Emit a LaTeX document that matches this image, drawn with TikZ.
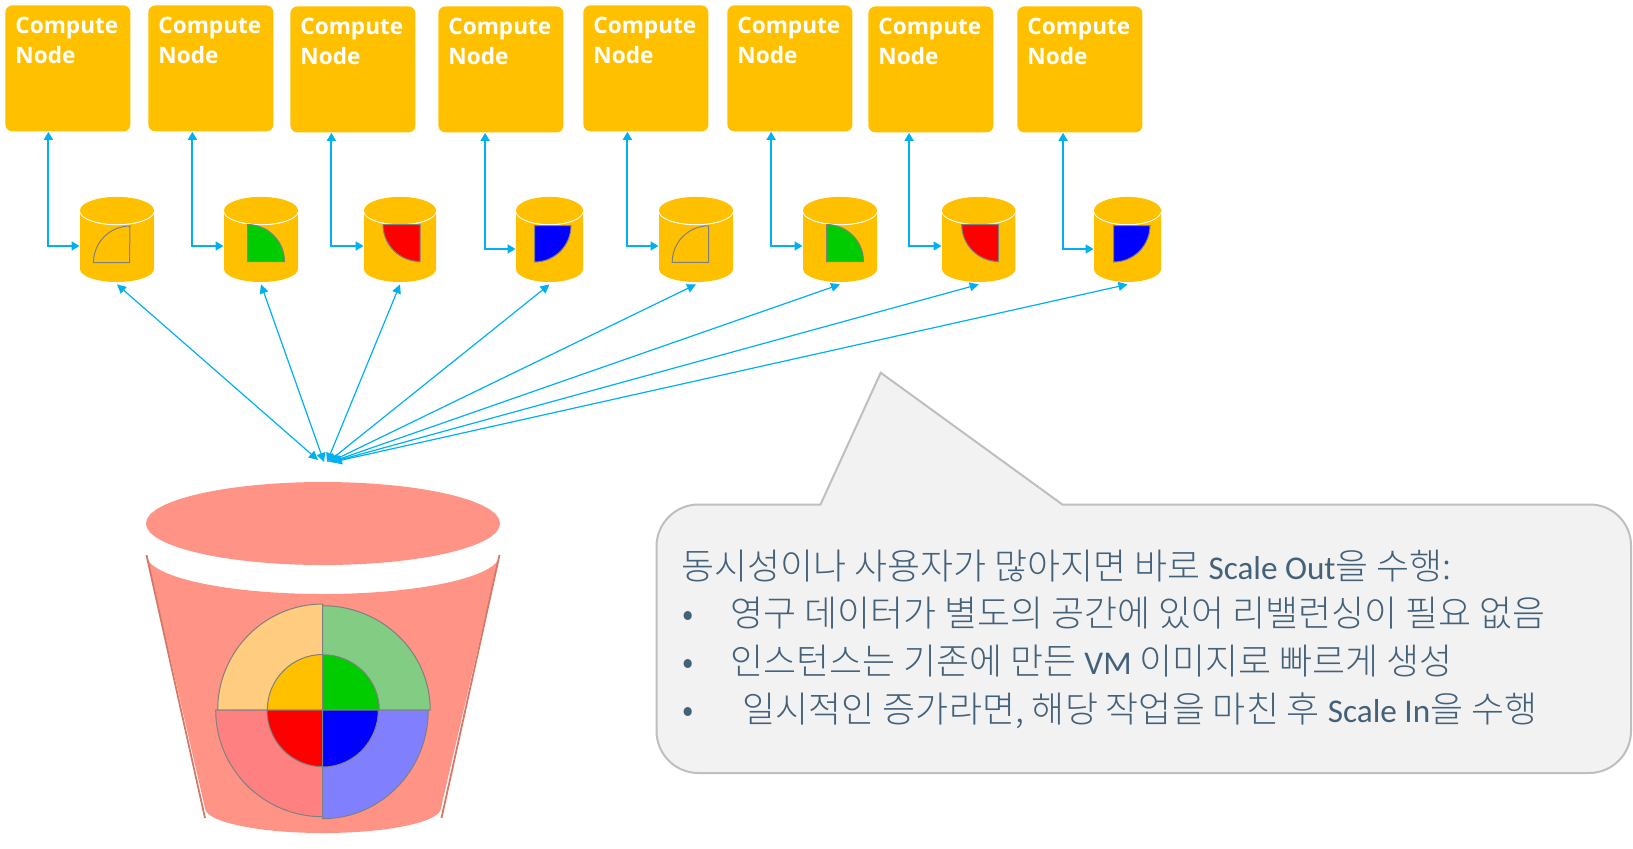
\documentclass[tikz,border=0pt]{standalone}
\usepackage{fontspec}
\usetikzlibrary{arrows.meta}
\newfontfamily\krfont{Noto Sans CJK KR Light}
\newfontfamily\latfont{Carlito}
\newfontfamily\boxfont{Open Sans}[BoldFont={Open Sans Bold}]
\definecolor{nodeorange}{HTML}{FFC000}
\definecolor{linkblue}{HTML}{00B0F0}
\definecolor{bucketred}{HTML}{FF9385}
\definecolor{bucketedge}{HTML}{D47868}
\definecolor{wedgegray}{HTML}{808080}
\definecolor{slatetext}{HTML}{44617A}
\definecolor{nodegreen}{HTML}{00CC00}
\definecolor{paleorange}{HTML}{FFCC80}
\definecolor{palegreen}{HTML}{83CC83}
\tikzset{
  computebox/.style={anchor=north west,fill=nodeorange,rounded corners=3.5pt,text=white,
    minimum height=63pt,text width=52.5pt,inner xsep=5pt,inner ysep=0pt,align=left,
    font=\boxfont\bfseries\fontsize{11.3}{15}\selectfont},
  elbow/.style={{Triangle[length=4pt,width=4.4pt]}-{Triangle[length=4pt,width=4.4pt]},linkblue,line width=1pt},
  spoke/.style={{Triangle[length=4.5pt,width=4.4pt]}-{Triangle[length=4.5pt,width=4.4pt]},linkblue,line width=0.6pt},
  wedge/.style={draw=wedgegray,line width=0.5pt,line join=miter},
  kertext/.style={anchor=base west,inner sep=0pt,text=slatetext,font=\krfont\fontsize{17.95}{20}\selectfont},
  callout/.style={fill=black!5,draw=black!25,line width=1pt},
}
\newcommand{\lat}[1]{{\latfont\fontsize{16.6}{20}\selectfont #1}}
\newcommand{\storagecyl}[3]{
  \fill[nodeorange] (#2-#3,212) -- (#2-#3,269) arc[start angle=180,end angle=0,x radius=#3,y radius=13]
    -- (#2+#3,212) arc[start angle=0,end angle=180,x radius=#3,y radius=13] -- cycle;
  \draw[white,line width=0.7pt,fill=nodeorange] (#2,210.5) ellipse [x radius=#3,y radius=14];
  \fill[nodeorange] (#2,210.5) ellipse [x radius=#3,y radius=13.6];
  \node (#1) [minimum width=#3 pt,minimum height=44pt,inner sep=0pt] at (#2,240) {};
}
\begin{document}
\begin{tikzpicture}[x=0.5pt,y=-0.5pt]
\useasboundingbox (0,0) rectangle (1633,848);

\node (comp1) [computebox] at (5,5) {Compute\\Node\\[13pt]~};
\node (comp2) [computebox] at (148,5) {Compute\\Node\\[13pt]~};
\node (comp3) [computebox] at (290,6) {Compute\\Node\\[13pt]~};
\node (comp4) [computebox] at (438,6) {Compute\\Node\\[13pt]~};
\node (comp5) [computebox] at (583,5) {Compute\\Node\\[13pt]~};
\node (comp6) [computebox] at (727,5) {Compute\\Node\\[13pt]~};
\node (comp7) [computebox] at (868,6) {Compute\\Node\\[13pt]~};
\node (comp8) [computebox] at (1017,6) {Compute\\Node\\[13pt]~};

\storagecyl{cyl1}{117}{37}
\storagecyl{cyl2}{261}{37}
\storagecyl{cyl3}{400}{36}
\storagecyl{cyl4}{549.5}{33.5}
\storagecyl{cyl5}{696}{37}
\storagecyl{cyl6}{840}{37}
\storagecyl{cyl7}{978.7}{36.7}
\storagecyl{cyl8}{1127.5}{33.5}

\draw[wedge,fill=nodeorange] (129.5,262.5) -- (93.5,262.5) arc[start angle=180,end angle=270,radius=36.5] -- cycle;
\draw[wedge,fill=nodegreen] (247.5,261.5) -- (247.5,224.5) arc[start angle=-90,end angle=0,radius=37] -- cycle;
\draw[wedge,fill=red] (420,224.5) -- (420,261.5) arc[start angle=90,end angle=180,radius=37] -- cycle;
\draw[wedge,fill=blue] (534.5,225.5) -- (571,225.5) arc[start angle=0,end angle=90,radius=36.5] -- cycle;
\draw[wedge,fill=nodeorange] (708.7,262.3) -- (672.2,262.3) arc[start angle=180,end angle=270,radius=36.5] -- cycle;
\draw[wedge,fill=nodegreen] (826.5,261.7) -- (826.5,224.5) arc[start angle=-90,end angle=0,radius=37] -- cycle;
\draw[wedge,fill=red] (998.7,224.5) -- (998.7,261.5) arc[start angle=90,end angle=180,radius=37] -- cycle;
\draw[wedge,fill=blue] (1113.5,225.5) -- (1150,225.5) arc[start angle=0,end angle=90,radius=36.5] -- cycle;

\draw[elbow] ([xshift=-9.75pt]comp1.south) |- ([yshift=-3pt]cyl1.west);
\draw[elbow] ([xshift=-9.25pt]comp2.south) |- ([yshift=-3pt]cyl2.west);
\draw[elbow] ([xshift=-10.75pt]comp3.south) |- ([yshift=-3pt]cyl3.west);
\draw[elbow] ([xshift=-7.9pt]comp4.south) |- ([yshift=-4.5pt]cyl4.west);
\draw[elbow] ([xshift=-9.25pt]comp5.south) |- ([yshift=-3pt]cyl5.west);
\draw[elbow] ([xshift=-9.4pt]comp6.south) |- ([yshift=-3pt]cyl6.west);
\draw[elbow] ([xshift=-10.9pt]comp7.south) |- ([yshift=-3pt]cyl7.west);
\draw[elbow] ([xshift=-8.4pt]comp8.south) |- ([yshift=-4.5pt]cyl8.west);

\coordinate (hub) at (326,462);
\draw[spoke] ([xshift=-4pt,yshift=1pt]hub) -- (cyl1.south);
\draw[spoke] ([xshift=-1pt]hub) -- (cyl2.south);
\draw[spoke] ([xshift=0.5pt]hub) -- (cyl3.south);
\draw[spoke] ([xshift=1pt]hub) -- (cyl4.south);
\draw[spoke] ([xshift=2pt]hub) -- (cyl5.south);
\draw[spoke] ([xshift=2.5pt]hub) -- (cyl6.south);
\draw[spoke] ([xshift=3pt]hub) -- (cyl7.south);
\draw[spoke] ([xshift=3.5pt]hub) -- (cyl8.south);

\fill[bucketred] (323,523.5) ellipse [x radius=177,y radius=41.5];
\fill[bucketred] (146.5,555) arc[start angle=180,end angle=0,x radius=176.5,y radius=39]
  -- (441,808) arc[start angle=0,end angle=180,x radius=118,y radius=25] -- cycle;
\draw[bucketedge,line width=0.9pt] (146.5,555) -- (205,818);
\draw[bucketedge,line width=0.9pt] (499.5,555) -- (441.5,818);

\draw[wedge,fill=paleorange] (322.7,710) -- (217.7,710) arc[start angle=180,end angle=270,x radius=105,y radius=106] -- cycle;
\draw[wedge,fill=palegreen] (322.7,710) -- (322.7,605.7) arc[start angle=-90,end angle=0,x radius=107.5,y radius=104.3] -- cycle;
\draw[wedge,fill=red!50!white] (322.7,710) -- (322.7,816.7) arc[start angle=90,end angle=180,x radius=107,y radius=106.7] -- cycle;
\draw[wedge,fill=blue!50!white] (322.7,710) -- (428.3,710) arc[start angle=0,end angle=90,x radius=105.6,y radius=108.7] -- cycle;
\draw[wedge,fill=nodeorange] (322.7,710) -- (267.3,710) arc[start angle=180,end angle=270,x radius=55.4,y radius=55.5] -- cycle;
\draw[wedge,fill=nodegreen] (322.7,710) -- (322.7,654.7) arc[start angle=-90,end angle=0,x radius=56.6,y radius=55.3] -- cycle;
\draw[wedge,fill=red] (322.7,710) -- (322.7,766.7) arc[start angle=90,end angle=180,x radius=55.7,y radius=56.7] -- cycle;
\draw[wedge,fill=blue] (322.7,710) -- (378.3,710) arc[start angle=0,end angle=90,x radius=55.6,y radius=57] -- cycle;

\draw[callout] (698.5,504.5) -- (820.5,504.5) -- (880.7,372.7) -- (1062.4,504.5) -- (1590,504.5)
  arc[start angle=-90,end angle=0,radius=41] -- (1631,731) arc[start angle=0,end angle=90,radius=42]
  -- (698.5,773) arc[start angle=90,end angle=180,radius=42] -- (656.5,546.5)
  arc[start angle=180,end angle=270,radius=42] -- cycle;

\node (headline) [kertext] at (681,579) {동시성이나 사용자가 많아지면 바로 \lat{Scale Out}을 수행:};
\node (bulletA) [kertext] at (682,626) {•};
\node (itemA) [kertext] at (730,626) {영구 데이터가 별도의 공간에 있어 리밸런싱이 필요 없음};
\node (bulletB) [kertext] at (682,674) {•};
\node (itemB) [kertext] at (730,674) {인스턴스는 기존에 만든 \lat{VM} 이미지로 빠르게 생성};
\node (bulletC) [kertext] at (682,722) {•};
\node (itemC) [kertext] at (742.5,722) {일시적인 증가라면, 해당 작업을 마친 후 \lat{Scale In}을 수행};
\end{tikzpicture}
\end{document}
